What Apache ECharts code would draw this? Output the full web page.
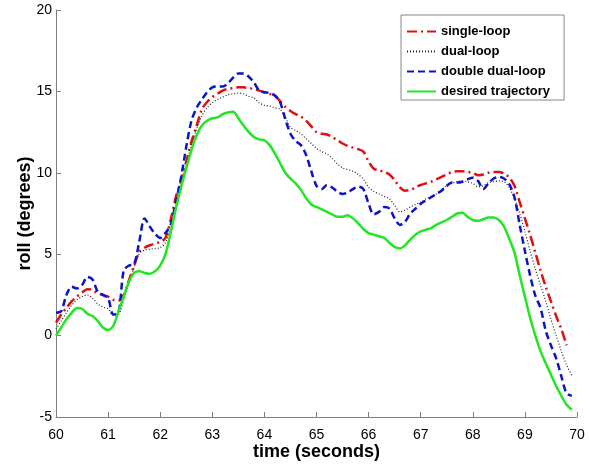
<!DOCTYPE html>
<html>
<head>
<meta charset="utf-8">
<script src="https://cdn.jsdelivr.net/npm/echarts@6/dist/echarts.min.js"></script>
<style>
  html, body { margin: 0; padding: 0; background: #fff; }
  #roll { width: 590px; height: 466px; }
</style>
</head>
<body>
<div id="roll"></div>
<script>
// time samples (seconds)
var times = [
  60.0, 60.1, 60.2, 60.3, 60.4, 60.5, 60.6, 60.7, 60.8, 60.9,
  61.0, 61.1, 61.2, 61.3, 61.4, 61.5, 61.6, 61.7, 61.8, 61.9,
  62.0, 62.1, 62.2, 62.3, 62.4, 62.5, 62.6, 62.7, 62.8, 62.9,
  63.0, 63.1, 63.2, 63.3, 63.4, 63.5, 63.6, 63.7, 63.8, 63.9,
  64.0, 64.1, 64.2, 64.3, 64.4, 64.5, 64.6, 64.7, 64.8, 64.9,
  65.0, 65.1, 65.2, 65.3, 65.4, 65.5, 65.6, 65.7, 65.8, 65.9,
  66.0, 66.1, 66.2, 66.3, 66.4, 66.5, 66.6, 66.7, 66.8, 66.9,
  67.0, 67.1, 67.2, 67.3, 67.4, 67.5, 67.6, 67.7, 67.8, 67.9,
  68.0, 68.1, 68.2, 68.3, 68.4, 68.5, 68.6, 68.7, 68.8, 68.9,
  69.0, 69.1, 69.2, 69.3, 69.4, 69.5, 69.6, 69.7, 69.8, 69.9
];

// roll (degrees)
var singleLoop = [
  0.8, 1.3, 1.7, 2.1, 2.4, 2.65, 2.85, 2.8, 2.6, 2.5,
  2.4, 2.2, 2.15, 2.5, 3.4, 4.3, 5.15, 5.4, 5.55, 5.65,
  5.75, 6.0, 7.1, 8.5, 9.5, 10.7, 11.9, 12.9, 13.9, 14.35,
  14.65, 14.85, 15.05, 15.15, 15.2, 15.25, 15.25, 15.2, 15.15, 15.05,
  14.95, 14.85, 14.75, 14.4, 14.05, 13.8, 13.6, 13.45, 13.2, 12.85,
  12.5, 12.4, 12.35, 12.2, 12.0, 11.8, 11.65, 11.55, 11.45, 11.3,
  10.7, 10.25, 10.15, 10.05, 9.9, 9.55, 9.1, 8.9, 8.95, 9.1,
  9.25, 9.35, 9.45, 9.6, 9.75, 9.9, 10.05, 10.1, 10.1, 10.05,
  10.0, 9.85, 9.9, 10.0, 10.05, 10.05, 9.95, 9.7, 9.2, 8.2,
  7.2, 6.2, 5.1, 4.0, 3.0, 2.1, 1.2, 0.4, -0.6
];

var dualLoop = [
  0.4, 0.9, 1.4, 1.85, 2.2, 2.4, 2.5, 2.3, 1.95, 1.75,
  1.65, 1.25, 1.3, 2.2, 3.2, 4.2, 5.05, 5.25, 5.3, 5.35,
  5.4, 5.7, 6.6, 8.0, 9.2, 10.5, 11.7, 12.7, 13.5, 14.0,
  14.3, 14.5, 14.65, 14.8, 14.85, 14.9, 14.85, 14.7, 14.6, 14.3,
  14.15, 14.1, 14.0, 13.9, 13.4, 12.8, 12.6, 12.4, 12.1, 11.8,
  11.5, 11.3, 11.15, 10.9, 10.55, 10.3, 10.2, 10.1, 9.9, 9.6,
  9.1, 8.85, 8.7, 8.55, 8.4, 8.0, 7.6, 7.7, 7.9, 8.05,
  8.2, 8.4, 8.55, 8.7, 8.95, 9.2, 9.35, 9.45, 9.5, 9.45,
  9.35, 9.15, 9.2, 9.4, 9.45, 9.5, 9.45, 9.1, 8.4, 7.5,
  6.4, 5.2, 4.1, 3.1, 2.1, 1.0, 0.0, -0.95, -1.8, -2.45
];

var doubleDualLoop = [
  1.4, 1.5, 2.5, 3.0, 2.9, 3.1, 3.6, 3.45, 2.7, 2.5,
  2.3, 1.3, 1.4, 4.0, 4.3, 4.4, 5.8, 7.2, 6.7, 6.25,
  6.0, 6.3, 6.8, 8.2, 9.7, 11.6, 13.2, 14.0, 14.5, 14.95,
  15.25, 15.3, 15.3, 15.5, 15.85, 16.1, 16.1, 15.9, 15.55, 15.05,
  14.95, 14.9, 14.75, 14.35, 13.3, 12.4, 11.95, 11.7, 11.1, 10.1,
  9.2, 9.0, 9.25, 9.1, 8.85, 8.7, 8.8, 9.0, 9.15, 9.0,
  8.1, 7.45, 7.6, 7.9, 7.8, 7.2, 6.8, 7.0, 7.5, 7.8,
  8.1, 8.3, 8.5, 8.7, 8.9, 9.2, 9.4, 9.4, 9.45, 9.6,
  9.7, 9.5, 9.0, 9.35, 9.65, 9.75, 9.65, 9.3, 8.5, 6.8,
  5.2, 3.7, 2.45, 1.7, 0.3, -0.6, -1.4, -2.5, -3.55, -3.7
];

var desired = [
  0.0, 0.5, 1.0, 1.4, 1.7, 1.65, 1.35, 1.2, 0.9, 0.5,
  0.35, 0.6, 1.5, 2.4, 3.3, 3.85, 3.95, 3.85, 3.8, 3.95,
  4.3, 5.0, 6.3, 7.8, 9.1, 10.3, 11.4, 12.3, 12.9, 13.2,
  13.35, 13.4, 13.6, 13.7, 13.75, 13.35, 12.9, 12.5, 12.2, 12.05,
  12.0, 11.7, 11.2, 10.6, 10.0, 9.65, 9.35, 8.95, 8.45, 8.05,
  7.9, 7.75, 7.6, 7.45, 7.3, 7.3, 7.4, 7.2, 6.9, 6.55,
  6.3, 6.2, 6.1, 6.0, 5.7, 5.45, 5.35, 5.55, 5.9, 6.2,
  6.4, 6.5, 6.6, 6.8, 6.95, 7.1, 7.3, 7.5, 7.55, 7.3,
  7.1, 7.05, 7.15, 7.25, 7.25, 7.1, 6.7, 5.95, 5.1, 3.7,
  2.4, 1.1, 0.0, -0.95, -1.7, -2.4, -3.1, -3.7, -4.25, -4.55
];

var xTicks = [60, 61, 62, 63, 64, 65, 66, 67, 68, 69, 70];
var yTicks = [-5, 0, 5, 10, 15, 20];

function pairs(vals) {
  var out = [];
  for (var i = 0; i < vals.length; i++) {
    out.push([times[i], vals[i]]);
  }
  return out;
}

var myChart = echarts.init(document.getElementById('roll'));

var axisFont = 'Liberation Sans, Arial, sans-serif';

var option = {
  animation: false,
  backgroundColor: '#fff',
  grid: {
    left: 56,
    right: 13,
    top: 10,
    bottom: 49
  },
  legend: {
    orient: 'vertical',
    left: 401,
    top: 15,
    padding: [10, 14, 2, 5],
    itemWidth: 29,
    itemHeight: 14,
    itemGap: 7,
    borderColor: '#888',
    borderWidth: 1,
    backgroundColor: '#fff',
    // hide the marker, keep only the dashed line sample
    itemStyle: { color: 'transparent', borderColor: 'transparent', borderWidth: 0 },
    textStyle: {
      fontFamily: axisFont,
      fontSize: 13,
      fontWeight: 'bold',
      color: '#000'
    },
    data: ['single-loop', 'dual-loop', 'double dual-loop', 'desired trajectory']
  },
  xAxis: {
    type: 'value',
    min: xTicks[0],
    max: xTicks[xTicks.length - 1],
    interval: 1,
    name: 'time (seconds)',
    nameLocation: 'middle',
    nameGap: 26,
    nameMoveOverlap: false,
    nameTextStyle: {
      fontFamily: axisFont,
      fontSize: 18,
      fontWeight: 'bold',
      color: '#000'
    },
    axisLine: { onZero: false, lineStyle: { color: '#808080', width: 1 } },
    axisTick: { inside: true, length: 5, lineStyle: { color: '#808080' } },
    axisLabel: {
      margin: 11,
      fontFamily: axisFont,
      fontSize: 14,
      color: '#000'
    },
    splitLine: { show: false }
  },
  yAxis: {
    type: 'value',
    min: yTicks[0],
    max: yTicks[yTicks.length - 1],
    interval: 5,
    name: 'roll (degrees)',
    nameLocation: 'middle',
    nameGap: 22,
    nameMoveOverlap: false,
    nameTextStyle: {
      fontFamily: axisFont,
      fontSize: 18,
      fontWeight: 'bold',
      color: '#000'
    },
    axisLine: { show: true, onZero: false, lineStyle: { color: '#808080', width: 1 } },
    axisTick: { show: true, inside: true, length: 5, lineStyle: { color: '#808080' } },
    axisLabel: {
      margin: 4,
      fontFamily: axisFont,
      fontSize: 14,
      color: '#000'
    },
    splitLine: { show: false }
  },
  series: [
    {
      name: 'single-loop',
      type: 'line',
      showSymbol: false,
      symbol: 'none',
      smooth: 0.3,
      data: pairs(singleLoop),
      itemStyle: { color: '#e01010' },
      lineStyle: { color: '#e01010', width: 2.5, type: [10, 4, 2, 4] }
    },
    {
      name: 'dual-loop',
      type: 'line',
      showSymbol: false,
      symbol: 'none',
      smooth: 0.3,
      data: pairs(dualLoop),
      itemStyle: { color: '#222' },
      lineStyle: { color: '#222', width: 1.2, type: [1, 2] }
    },
    {
      name: 'double dual-loop',
      type: 'line',
      showSymbol: false,
      symbol: 'none',
      smooth: 0.3,
      data: pairs(doubleDualLoop),
      itemStyle: { color: '#0a14c8' },
      lineStyle: { color: '#0a14c8', width: 2.5, type: [7, 4] }
    },
    {
      name: 'desired trajectory',
      type: 'line',
      showSymbol: false,
      symbol: 'none',
      smooth: 0.3,
      data: pairs(desired),
      itemStyle: { color: '#22e622' },
      lineStyle: { color: '#22e622', width: 2.5 }
    }
  ]
};

myChart.setOption(option);
</script>
</body>
</html>
